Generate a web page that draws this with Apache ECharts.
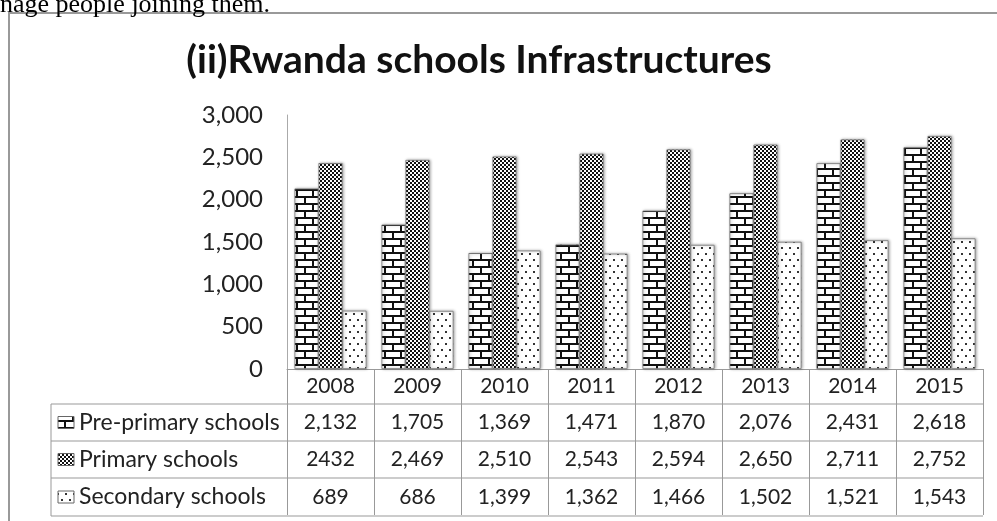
<!DOCTYPE html>
<html>
<head>
<meta charset="utf-8">
<script src="https://cdn.jsdelivr.net/npm/echarts/dist/echarts.min.js"></script>
<style>html,body{margin:0;padding:0;background:#fff}#c{width:997px;height:521px}</style>
</head>
<body>
<div id="c"></div>
<script>
const years = ['2008','2009','2010','2011','2012','2013','2014','2015'];
const seriesNames = ['Pre-primary schools','Primary schools','Secondary schools'];
const prePrimary = [2132,1705,1369,1471,1870,2076,2431,2618];
const primary = [2432,2469,2510,2543,2594,2650,2711,2752];
const secondary = [689,686,1399,1362,1466,1502,1521,1543];
const yTicks = [0,500,1000,1500,2000,2500,3000];
const titleText = '(ii)Rwanda schools Infrastructures';
const topText = 'nage people joining them.';

const FONT = 'Lato, "Open Sans", sans-serif';
const fmt = v => v.toLocaleString('en-US');

function mk(w,h,draw){const c=document.createElement('canvas');c.width=w;c.height=h;const x=c.getContext('2d');x.fillStyle='#fff';x.fillRect(0,0,w,h);x.fillStyle='#111';draw(x);return c;}
const brickCanvas = mk(16,14,x=>{x.fillRect(0,0,16,2);x.fillRect(0,7,16,2);x.fillRect(0,0,2,7);x.fillRect(8,7,2,7);});
const checkCanvas = mk(4,4,x=>{x.fillRect(0,0,2,2);x.fillRect(2,2,2,2);});
const dotCanvas = mk(8,12,x=>{x.fillStyle='#333';x.fillRect(1,1,2,2);x.fillRect(5,7,2,2);});
const patterns = [brickCanvas, checkCanvas, dotCanvas].map(c=>({image:c, repeat:'repeat'}));
const dataSets = [prePrimary, primary, secondary];
const tableText = [
  prePrimary.map(fmt),
  primary.map((v,i)=> i===0 ? String(v) : fmt(v)),
  secondary.map(fmt)
];

const chart = echarts.init(document.getElementById('c'), null, {renderer:'canvas'});
chart.setOption({
  animation:false,
  backgroundColor:'#fff',
  grid:{left:287,right:14,top:115,bottom:152,containLabel:false},
  xAxis:{type:'category',data:years,
    axisLine:{lineStyle:{color:'#999',width:1}},
    axisTick:{show:true,length:146,interval:0,lineStyle:{color:'#999',width:1}},
    axisLabel:{fontFamily:FONT,fontSize:21,color:'#222',margin:7}},
  yAxis:{type:'value',min:yTicks[0],max:yTicks[yTicks.length-1],interval:500,
    axisLine:{show:true,lineStyle:{color:'#aaa'}},axisTick:{show:false},splitLine:{show:false},
    axisLabel:{fontFamily:FONT,fontSize:24,color:'#222',margin:24,formatter:v=>fmt(v)}},
  series: seriesNames.map((n,i)=>({name:n,type:'bar',data:dataSets[i],barWidth:24,barGap:'0%',
    itemStyle:{color:patterns[i],borderColor:'#777',borderWidth:0.8,shadowColor:'rgba(0,0,0,0.35)',shadowBlur:3,shadowOffsetX:1,shadowOffsetY:0}}))
});

const g = [];
g.push({type:'rect',shape:{x:9,y:13,width:1000,height:520},style:{fill:'none',stroke:'#999',lineWidth:2},silent:true});
g.push({type:'text',style:{text:topText,x:0,y:18,font:'26px "Liberation Serif", serif',fill:'#000',verticalAlign:'bottom'}});
g.push({type:'text',style:{text:titleText,x:479,y:60,font:'bold 39px '+FONT,fill:'#111',align:'center',verticalAlign:'middle'}});
const rowTops=[404,441,478,516];
const tableLeft=51, tableRight=983;
rowTops.forEach(y=>g.push({type:'line',shape:{x1:tableLeft,y1:y,x2:tableRight,y2:y},style:{stroke:'#999',lineWidth:1}}));
g.push({type:'line',shape:{x1:tableLeft,y1:404,x2:tableLeft,y2:516},style:{stroke:'#999',lineWidth:1}});
seriesNames.forEach((n,r)=>{
  const cy=(rowTops[r]+rowTops[r+1])/2;
  g.push({type:'rect',shape:{x:58,y:cy-6,width:16,height:12},style:{fill:patterns[r],stroke:'#666',lineWidth:1}});
  g.push({type:'text',style:{text:n,x:79,y:cy,font:'23px '+FONT,fill:'#222',verticalAlign:'middle'}});
  years.forEach((yr,i)=>{
    const cx=chart.convertToPixel({xAxisIndex:0},i);
    g.push({type:'text',style:{text:tableText[r][i],x:cx,y:cy,font:'21px '+FONT,fill:'#222',align:'center',verticalAlign:'middle'}});
  });
});
chart.setOption({graphic:g});
</script>
</body>
</html>
